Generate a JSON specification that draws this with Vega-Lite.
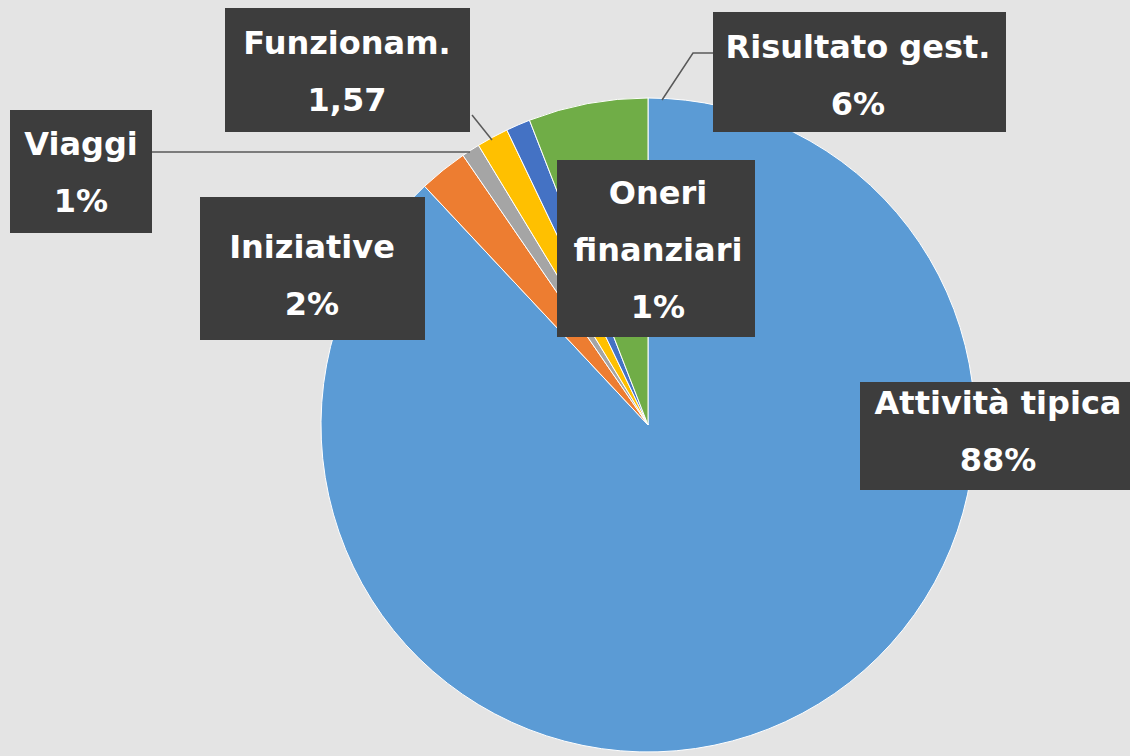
{
  "$schema": "https://vega.github.io/schema/vega-lite/v6.json",
  "width": 960,
  "height": 654,
  "autosize": {"type": "none"},
  "padding": {"left": 168, "top": 98, "right": 2, "bottom": 4},
  "background": "#e4e4e4",
  "config": {"view": {"stroke": null}},
  "data": {
    "values": [
      {"cat": "Attività tipica", "value": 88.0, "order": 1, "label": "Attività tipica\n88%"},
      {"cat": "Iniziative", "value": 2.4, "order": 2, "label": "Iniziative\n2%"},
      {"cat": "Viaggi", "value": 0.9, "order": 3, "label": "Viaggi\n1%"},
      {"cat": "Funzionam.", "value": 1.57, "order": 4, "label": "Funzionam.\n1,57"},
      {"cat": "Oneri finanziari", "value": 1.2, "order": 5, "label": "Oneri\nfinanziari\n1%"},
      {"cat": "Risultato gest.", "value": 5.9, "order": 6, "label": "Risultato gest.\n6%"}
    ]
  },
  "resolve": {"scale": {"shape": "independent"}},
  "layer": [
    {
      "mark": {"type": "arc", "stroke": "#ffffff", "strokeWidth": 1},
      "encoding": {
        "theta": {"field": "value", "type": "quantitative", "stack": true},
        "order": {"field": "order", "type": "quantitative"},
        "color": {
          "field": "cat",
          "type": "nominal",
          "legend": null,
          "scale": {
            "domain": ["Attività tipica", "Iniziative", "Viaggi", "Funzionam.", "Oneri finanziari", "Risultato gest."],
            "range": ["#5b9bd5", "#ed7d31", "#a5a5a5", "#ffc000", "#4472c4", "#70ad47"]
          }
        }
      }
    },
    {
      "mark": {"type": "point", "filled": true, "size": 4, "opacity": 1, "fill": "#3d3d3d", "strokeWidth": 0},
      "encoding": {
        "shape": {
          "field": "cat",
          "type": "nominal",
          "legend": null,
          "scale": {
            "domain": ["Attività tipica", "Iniziative", "Viaggi", "Funzionam.", "Oneri finanziari", "Risultato gest."],
            "range": [
              "M212,-43H482V65H212Z",
              "M-448,-228H-223V-85H-448Z",
              "M-638,-315H-496V-192H-638Z",
              "M-423,-417H-178V-293H-423Z",
              "M-91,-265H107V-88H-91Z",
              "M65,-413H358V-293H65Z"
            ]
          }
        }
      }
    },
    {
      "transform": [{"filter": "indexof(['Viaggi','Funzionam.','Risultato gest.'], datum.cat) >= 0"}],
      "mark": {"type": "point", "filled": false, "size": 4, "opacity": 1, "stroke": "#595959", "strokeWidth": 1.5},
      "encoding": {
        "shape": {
          "field": "cat",
          "type": "nominal",
          "legend": null,
          "scale": {
            "domain": ["Viaggi", "Funzionam.", "Risultato gest."],
            "range": [
              "M-496,-273H-178",
              "M-176,-310L-156,-285",
              "M65,-372H45L14,-325"
            ]
          }
        }
      }
    },
    {
      "mark": {
        "type": "text",
        "font": "DejaVu Sans",
        "fontSize": 32,
        "fontWeight": "bold",
        "fill": "#ffffff",
        "align": "center",
        "baseline": "middle",
        "lineBreak": "\n",
        "lineHeight": 57,
        "dx": {"expr": "datum.cat == 'Attività tipica' ? 350 : datum.cat == 'Iniziative' ? -336 : datum.cat == 'Viaggi' ? -567 : datum.cat == 'Funzionam.' ? -301 : datum.cat == 'Oneri finanziari' ? 10 : 210"},
        "dy": {"expr": "datum.cat == 'Attività tipica' ? -21 : datum.cat == 'Iniziative' ? -177 : datum.cat == 'Viaggi' ? -280 : datum.cat == 'Funzionam.' ? -381 : datum.cat == 'Oneri finanziari' ? -231 : -377"}
      },
      "encoding": {
        "text": {"field": "label", "type": "nominal"}
      }
    }
  ]
}
